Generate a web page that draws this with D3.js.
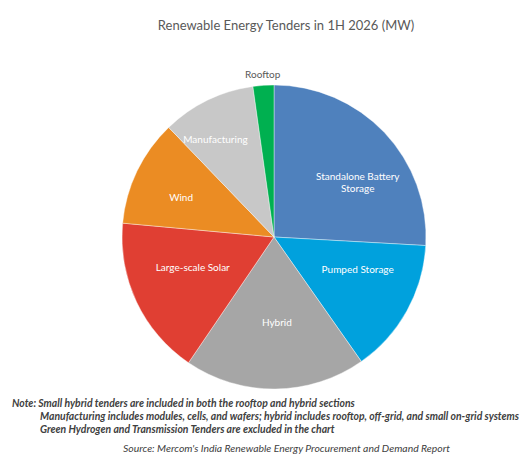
<!DOCTYPE html>
<html>
<head>
<meta charset="utf-8">
<script src="https://cdn.jsdelivr.net/npm/d3@7"></script>
<style>
  body { margin: 0; background: #fff; }
  svg { display: block; font-family: Lato, 'Open Sans', sans-serif; }
</style>
</head>
<body>
<div id="chart"></div>
<script>
// tender volumes (MW)
const categories = ['Standalone Battery Storage', 'Pumped Storage', 'Hybrid', 'Large-scale Solar', 'Wind', 'Manufacturing', 'Rooftop']
const values = [7770, 4310, 5775, 5085, 3410, 2990, 665]
const colors = ['#4F81BD', '#00A1DD', '#A6A6A6', '#E03F33', '#EB8C23', '#C8C8C8', '#00B050']
const noteLines = [
  'Note: Small hybrid tenders are included in both the rooftop and hybrid sections',
  'Manufacturing includes modules, cells, and wafers; hybrid includes rooftop, off-grid, and small on-grid systems',
  'Green Hydrogen and Transmission Tenders are excluded in the chart'
]
const source = "Source: Mercom's India Renewable Energy Procurement and Demand Report"
const title = 'Renewable Energy Tenders in 1H 2026 (MW)'

const width = 525, height = 463
const cx = 274, cy = 237, r = 152

// label placement: angle shift (deg) and radius factor, like excel's best fit
const labelAdj = {
  'Standalone Battery Storage': [10, 0.66],
  'Pumped Storage': [-8, 0.59],
  'Hybrid': [-1.5, 0.565],
  'Large-scale Solar': [5, 0.57],
  'Wind': [-2.5, 0.665],
  'Manufacturing': [-5, 0.75],
  'Rooftop': [0, 1.07]
}

const svg = d3.select('#chart').append('svg').attr('width', width).attr('height', height)

svg.append('text')
  .attr('x', 286).attr('y', 30)
  .attr('text-anchor', 'middle')
  .attr('fill', '#595959')
  .style('font-size', '13px')
  .text(title)

const pie = d3.pie().sort(null).value(d => d.value)
const arcs = pie(categories.map((c, i) => ({ name: c, value: values[i], color: colors[i] })))
const arc = d3.arc().innerRadius(0).outerRadius(r)

const g = svg.append('g').attr('transform', `translate(${cx},${cy})`)

g.selectAll('path')
  .data(arcs)
  .enter()
  .append('path')
  .attr('d', arc)
  .attr('fill', d => d.data.color)
  .attr('stroke', '#fff')
  .attr('stroke-width', 0.4)

const lbl = g.selectAll('text.lbl')
  .data(arcs)
  .enter()
  .append('text')
  .attr('class', 'lbl')
  .attr('text-anchor', 'middle')
  .style('font-size', '10px')
  .attr('fill', d => d.data.name === 'Rooftop' ? '#595959' : '#fff')
  .attr('transform', d => {
    const [da, f] = labelAdj[d.data.name]
    const a = (d.startAngle + d.endAngle) / 2 + da * Math.PI / 180
    return `translate(${Math.sin(a) * r * f},${-Math.cos(a) * r * f})`
  })

lbl.each(function (d) {
  const t = d3.select(this)
  const lines = d.data.name === 'Standalone Battery Storage' ? ['Standalone Battery', 'Storage'] : [d.data.name]
  lines.forEach((l, i) => {
    t.append('tspan')
      .attr('x', 0)
      .attr('dy', i === 0 ? (lines.length > 1 ? '-0.2em' : '0.35em') : '1.25em')
      .text(l)
  })
})

const notes = svg.append('g')
  .attr('fill', '#404040')
  .style('font-size', '10.4px')
  .style('font-style', 'italic')
  .style('font-weight', 'bold')

notes.selectAll('text')
  .data(noteLines)
  .enter()
  .append('text')
  .attr('x', (d, i) => i === 0 ? 12 : 40)
  .attr('y', (d, i) => 407 + i * 13)
  .text(d => d)

svg.append('text')
  .attr('x', 123).attr('y', 452)
  .attr('fill', '#404040')
  .style('font-size', '10.4px')
  .style('font-style', 'italic')
  .text(source)
</script>
</body>
</html>
